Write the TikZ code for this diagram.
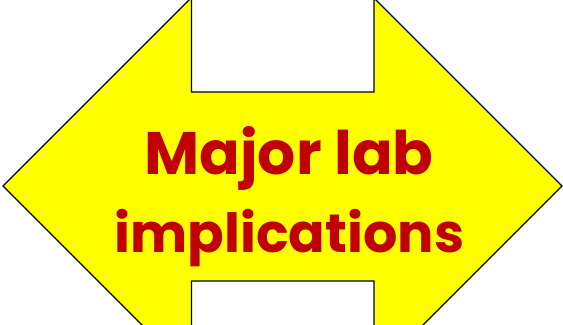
\documentclass[tikz,border=0pt]{standalone}
\usepackage{fontspec}
\setmainfont{Poppins}
\usepackage{tikz}
\usetikzlibrary{positioning}
\usepackage{xcolor}
\definecolor{signyellow}{HTML}{FFFF00}
\definecolor{signred}{HTML}{C00000}

\begin{document}
\begin{tikzpicture}[x=0.5pt,y=-0.5pt,
    arrowsign/.style={draw=black, line width=0.65pt, fill=signyellow, line join=miter},
    signtext/.style={text=signred, font=\fontsize{27}{33}\selectfont\bfseries, inner sep=0pt}]
  \useasboundingbox (0,0) rectangle (563,325);
  \clip (0,0) rectangle (563,325);
  % double arrow, both heads cut by the page edge
  \draw[arrowsign] (3,186) -- (191.5,-2.5) -- (191.5,92) -- (374,92) -- (374,-2)
    -- (562,186) -- (374,374) -- (374,281) -- (191.5,281) -- (191.5,374.5) -- cycle;
  \node[signtext, anchor=base, font=\fontsize{30}{36}\selectfont\bfseries] (major) at (289,175) {Major lab};
  \node[signtext, anchor=base] (impl) at (289.5,253) {implications};
\end{tikzpicture}
\end{document}
